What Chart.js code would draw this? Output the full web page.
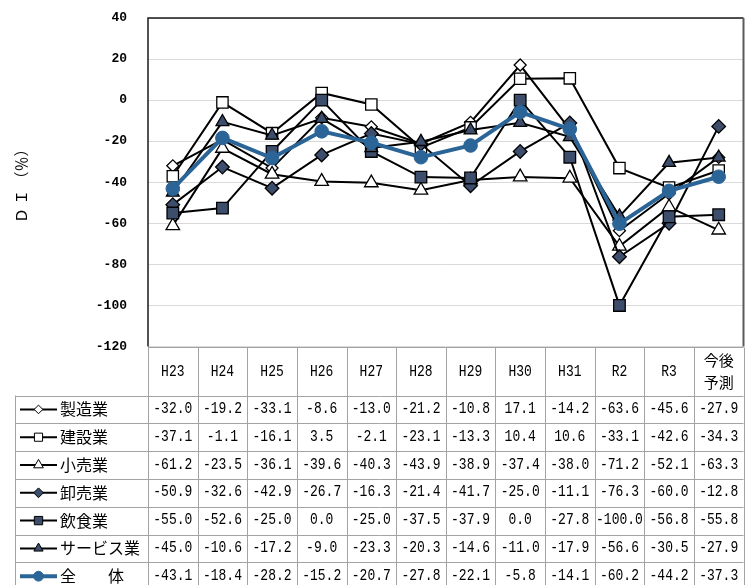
<!DOCTYPE html>
<html>
<head>
<meta charset="utf-8">
<script src="https://cdn.jsdelivr.net/npm/chart.js@4.4.1/dist/chart.umd.min.js"></script>
<style>
  html, body { margin: 0; padding: 0; background: #fff; }
  #wrap { position: relative; width: 753px; height: 585px; }
</style>
</head>
<body>
<div id="wrap"><canvas id="c" width="753" height="585"></canvas></div>
<script>
// 年度区分
const categories = ['H23', 'H24', 'H25', 'H26', 'H27', 'H28', 'H29', 'H30', 'H31', 'R2', 'R3', ['今後', '予測']];

// 業種別 DI（%）
const seizou   = [-32.0, -19.2, -33.1,  -8.6, -13.0, -21.2, -10.8,  17.1, -14.2,  -63.6, -45.6, -27.9];
const kensetsu = [-37.1,  -1.1, -16.1,   3.5,  -2.1, -23.1, -13.3,  10.4,  10.6,  -33.1, -42.6, -34.3];
const kouri    = [-61.2, -23.5, -36.1, -39.6, -40.3, -43.9, -38.9, -37.4, -38.0,  -71.2, -52.1, -63.3];
const oroshi   = [-50.9, -32.6, -42.9, -26.7, -16.3, -21.4, -41.7, -25.0, -11.1,  -76.3, -60.0, -12.8];
const inshoku  = [-55.0, -52.6, -25.0,   0.0, -25.0, -37.5, -37.9,   0.0, -27.8, -100.0, -56.8, -55.8];
const service  = [-45.0, -10.6, -17.2,  -9.0, -23.3, -20.3, -14.6, -11.0, -17.9,  -56.6, -30.5, -27.9];
const zentai   = [-43.1, -18.4, -28.2, -15.2, -20.7, -27.8, -22.1,  -5.8, -14.1,  -60.2, -44.2, -37.3];

// 系列名
const seriesNames = ['製造業', '建設業', '小売業', '卸売業', '飲食業', 'サービス業', '全　　体'];

// y 軸目盛
const yMin = -120, yMax = 40, yStep = 20;

const DARK = '#3d4d6c';
const BLUE = '#2b6496';

const styles = [
  { pointStyle: 'rectRot',  bg: '#fff', radius: 6.0, line: '#000', width: 2 },
  { pointStyle: 'rect',     bg: '#fff', radius: 8.0, line: '#000', width: 2 },
  { pointStyle: 'triangle', bg: '#fff', radius: 7.8, line: '#000', width: 2 },
  { pointStyle: 'rectRot',  bg: DARK,   radius: 6.8, line: '#000', width: 2 },
  { pointStyle: 'rect',     bg: DARK,   radius: 8.2, line: '#000', width: 2 },
  { pointStyle: 'triangle', bg: DARK,   radius: 7.4, line: '#000', width: 2 },
  { pointStyle: 'circle',   bg: BLUE,   radius: 6.8, line: BLUE,   width: 4 }
];

const seriesValues = [seizou, kensetsu, kouri, oroshi, inshoku, service, zentai];

const datasets = seriesValues.map((vals, i) => ({
  label: seriesNames[i],
  data: vals,
  borderColor: styles[i].line,
  borderWidth: styles[i].width,
  pointStyle: styles[i].pointStyle,
  pointRadius: styles[i].radius,
  pointBackgroundColor: styles[i].bg,
  pointBorderColor: i === 6 ? BLUE : '#000',
  pointBorderWidth: i === 6 ? 1 : 1.3,
  tension: 0,
  order: seriesValues.length - i
}));

const MONO = '13px "Liberation Mono", "DejaVu Sans Mono", monospace';
const CJK = '"Noto Sans CJK JP", "Noto Sans", sans-serif';

// 縦長の等幅数字で書く
function tallText(ctx, text, x, y) {
  ctx.save();
  ctx.translate(x, y);
  ctx.scale(1, 1.2);
  ctx.fillText(text, 0, 0);
  ctx.restore();
}

// 凡例用マーカー
function marker(ctx, style, cx, cy, r, fill, stroke, lw) {
  ctx.beginPath();
  if (style === 'circle') {
    ctx.arc(cx, cy, r, 0, Math.PI * 2);
  } else if (style === 'rect') {
    const s = r * Math.SQRT1_2;
    ctx.rect(cx - s, cy - s, 2 * s, 2 * s);
  } else if (style === 'rectRot') {
    ctx.moveTo(cx, cy - r); ctx.lineTo(cx + r, cy); ctx.lineTo(cx, cy + r); ctx.lineTo(cx - r, cy); ctx.closePath();
  } else if (style === 'triangle') {
    const a = Math.PI * 2 / 3;
    ctx.moveTo(cx, cy - r);
    ctx.lineTo(cx + Math.sin(a) * r, cy - Math.cos(a) * r);
    ctx.lineTo(cx + Math.sin(2 * a) * r, cy - Math.cos(2 * a) * r);
    ctx.closePath();
  }
  ctx.fillStyle = fill; ctx.fill();
  ctx.strokeStyle = stroke; ctx.lineWidth = lw; ctx.stroke();
}

// 枠線とデータ表
const tablePlugin = {
  id: 'dataTable',
  afterDraw(chart) {
    const ctx = chart.ctx;
    const area = chart.chartArea;
    const xs = chart.scales.x;
    const n = categories.length;
    const colW = (area.right - area.left) / n;
    const headTop = Math.round(area.bottom) + 0.5;
    const headBottom = headTop + 48;
    const rowH = 27.8;
    const legendLeft = 15.5;
    const rows = seriesNames.length;
    const tableBottom = headBottom + rowH * rows;

    ctx.save();
    // 表の罫線
    ctx.strokeStyle = '#a3a3a3';
    ctx.lineWidth = 1;
    ctx.beginPath();
    ctx.moveTo(area.left, headTop); ctx.lineTo(area.right, headTop);
    for (let r = 0; r <= rows; r++) {
      const yy = Math.round(headBottom + r * rowH) + 0.5;
      ctx.moveTo(legendLeft, yy); ctx.lineTo(area.right, yy);
    }
    for (let c = 0; c <= n; c++) {
      const xx = Math.round(area.left + c * colW) + 0.5;
      ctx.moveTo(xx, headTop); ctx.lineTo(xx, tableBottom);
    }
    ctx.moveTo(legendLeft, headBottom); ctx.lineTo(legendLeft, tableBottom);
    ctx.stroke();

    // 見出し
    ctx.fillStyle = '#000';
    ctx.textAlign = 'center';
    ctx.textBaseline = 'middle';
    const headMid = (headTop + headBottom) / 2;
    categories.forEach((lab, c) => {
      const cx = xs.getPixelForValue(c);
      if (Array.isArray(lab)) {
        ctx.font = '15px ' + CJK;
        ctx.fillText(lab[0], cx, headMid - 11);
        ctx.fillText(lab[1], cx, headMid + 11);
      } else {
        ctx.font = MONO;
        tallText(ctx, lab, cx, headMid);
      }
    });

    // 数値
    ctx.font = MONO;
    seriesValues.forEach((vals, r) => {
      const cy = headBottom + r * rowH + rowH / 2 - 0.5;
      vals.forEach((v, c) => {
        tallText(ctx, v.toFixed(1), xs.getPixelForValue(c), cy);
      });
    });

    // 凡例
    seriesNames.forEach((name, r) => {
      const cy = headBottom + r * rowH + rowH / 2;
      const st = styles[r];
      ctx.beginPath();
      ctx.moveTo(20, cy); ctx.lineTo(57, cy);
      ctx.strokeStyle = st.line; ctx.lineWidth = st.width; ctx.stroke();
      marker(ctx, st.pointStyle, 38.5, cy, st.radius * 0.72, st.bg, r === 6 ? BLUE : '#000', 1);
      ctx.fillStyle = '#000';
      ctx.textAlign = 'left';
      ctx.font = '16px ' + CJK;
      ctx.fillText(name, 60, cy);
    });

    // グラフ枠
    ctx.lineWidth = 1.5;
    ctx.strokeStyle = '#1a1a1a';
    ctx.beginPath();
    ctx.moveTo(area.left, area.bottom); ctx.lineTo(area.left, area.top); ctx.lineTo(area.right, area.top);
    ctx.stroke();
    ctx.strokeStyle = '#5a5a5a';
    ctx.lineWidth = 2;
    ctx.beginPath();
    ctx.moveTo(area.right, area.top); ctx.lineTo(area.right, area.bottom);
    ctx.stroke();
    ctx.restore();
  }
};

new Chart(document.getElementById('c'), {
  type: 'line',
  data: { labels: categories, datasets },
  options: {
    responsive: false,
    devicePixelRatio: 1,
    animation: false,
    layout: { padding: { left: 0, right: 9, top: 18, bottom: 238.5 } },
    plugins: { legend: { display: false }, tooltip: { enabled: false } },
    scales: {
      x: {
        display: false,
        offset: true
      },
      y: {
        min: yMin,
        max: yMax,
        afterFit(scale) {
          scale.width = 148;
          scale.paddingTop = 8;
          scale.paddingBottom = 8;
        },
        ticks: {
          stepSize: yStep,
          color: '#000',
          padding: 21,
          font: { family: '"Liberation Mono", monospace', size: 13, weight: 'bold' }
        },
        grid: { color: '#d9d9d9', lineWidth: 1, drawTicks: false },
        border: { display: false },
        title: {
          display: true,
          text: 'Ｄ Ｉ （％）',
          color: '#000',
          padding: { top: 12, bottom: 0 },
          font: { family: CJK, size: 15 }
        }
      }
    }
  },
  plugins: [tablePlugin]
});
</script>
</body>
</html>
